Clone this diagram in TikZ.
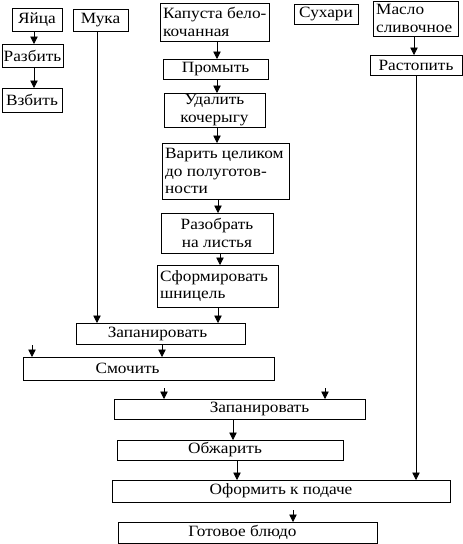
\documentclass[tikz,border=0pt]{standalone}
\usepackage{fontspec}
\setmainfont{Liberation Serif}[FakeStretch=1.1]
\usetikzlibrary{arrows.meta,calc}
\newcommand\bx[5]{\node[box,minimum width={(#4-#2)*1pt},minimum height={(#5-#3)*1pt}] (#1) at ({(#2+#4)/2},{(#3+#5)/2}) {};}
\begin{document}
\begin{tikzpicture}[x=1pt,y=-1pt,
  box/.style={draw,line width=0.9pt,inner sep=0pt,outer sep=0pt},
  txt/.style={inner sep=0pt,font=\fontsize{15.7}{17.3}\selectfont,align=center},
  ltxt/.style={txt,align=left,anchor=west},
  arr/.style={line width=0.8pt,-{Triangle[width=7.5pt,length=7.5pt]}}]
\useasboundingbox (0,0) rectangle (463,544);
% boxes
\bx{egg}{12}{8}{62}{31}
\bx{flour}{73}{9}{128}{31}
\bx{razb}{2}{44}{63}{67}
\bx{vzb}{2}{88}{62}{112}
\bx{kap}{160}{3}{269}{41}
\bx{prom}{163}{59}{268}{79}
\bx{udal}{164}{93}{265}{127}
\bx{var}{162}{143}{289}{199}
\bx{razo}{161}{213}{273}{253}
\bx{sform}{157}{265}{278}{307}
\bx{such}{294}{4}{358}{24}
\bx{maslo}{373}{1}{458}{36}
\bx{rast}{370}{55}{462}{75}
\bx{zap1}{76}{323}{245}{344}
\bx{smoch}{23}{357}{274}{380}
\bx{zap2}{114}{399}{365}{419}
\bx{obzh}{117}{440}{343}{460}
\bx{ofor}{112}{480}{450}{502}
\bx{got}{118}{522}{377}{543}
% texts
\node[txt] (egg-t) at (egg) {Яйца};
\node[txt] (flour-t) at (flour) {Мука};
\node[txt] (razb-t) at (razb) {Разбить};
\node[txt] (vzb-t) at (vzb) {Взбить};
\node[ltxt] (kap-t) at ($(kap.west)+(3,0)$) {Капуста бело-\\кочанная};
\node[txt] (prom-t) at (prom) {Промыть};
\node[txt] (udal-t) at (udal) {Удалить\\кочерыгу};
\node[ltxt] (var-t) at ($(var.west)+(3,0)$) {Варить целиком\\до полуготов-\\ности};
\node[txt] (razo-t) at (razo) {Разобрать\\на листья};
\node[ltxt] (sform-t) at ($(sform.west)+(3,0)$) {Сформировать\\шницель};
\node[txt] (such-t) at (such) {Сухари};
\node[ltxt] (maslo-t) at ($(maslo.west)+(3,0)$) {Масло\\сливочное};
\node[txt] (rast-t) at (rast) {Растопить};
\node[txt] (zap1-t) at ($(zap1)+(-3,0)$) {Запанировать};
\node[txt] (smoch-t) at ($(smoch)+(-21,0)$) {Смочить};
\node[txt] (zap2-t) at ($(zap2)+(20,0)$) {Запанировать};
\node[txt] (obzh-t) at ($(obzh)+(-5,0)$) {Обжарить};
\node[txt] (ofor-t) at (ofor) {Оформить к подаче};
\node[txt] (got-t) at ($(got)+(-5,0)$) {Готовое блюдо};
% connectors
\draw[arr] (egg.south -| 34,0) -- (razb.north -| 34,0);
\draw[arr] (razb.south -| 34,0) -- (vzb.north -| 34,0);
\draw[arr] (kap.south -| 217,0) -- (prom.north -| 217,0);
\draw[arr] (prom.south -| 217,0) -- (udal.north -| 217,0);
\draw[arr] (udal.south -| 217,0) -- (var.north -| 217,0);
\draw[arr] (var.south -| 218,0) -- (razo.north -| 218,0);
\draw[arr] (razo.south -| 220,0) -- (sform.north -| 220,0);
\draw[arr] (sform.south -| 218,0) -- (zap1.north -| 218,0);
\draw[arr] (flour.south -| 97,0) -- (zap1.north -| 97,0);
\draw[arr] (maslo.south -| 414,0) -- (rast.north -| 414,0);
\draw[arr] (rast.south -| 416,0) -- (ofor.north -| 416,0);
\draw[arr] (zap1.south -| 162,0) -- (smoch.north -| 162,0);
\coordinate (c1) at (32,345);
\draw[arr] (c1) -- (smoch.north -| c1);
\coordinate (c2) at (164,388);
\draw[arr] (c2) -- (zap2.north -| c2);
\coordinate (c3) at (325,388);
\draw[arr] (c3) -- (zap2.north -| c3);
\draw[arr] (zap2.south -| 233,0) -- (obzh.north -| 233,0);
\draw[arr] (obzh.south -| 237,0) -- (ofor.north -| 237,0);
\coordinate (c4) at (293,510);
\draw[arr] (c4) -- (got.north -| c4);
\end{tikzpicture}
\end{document}
